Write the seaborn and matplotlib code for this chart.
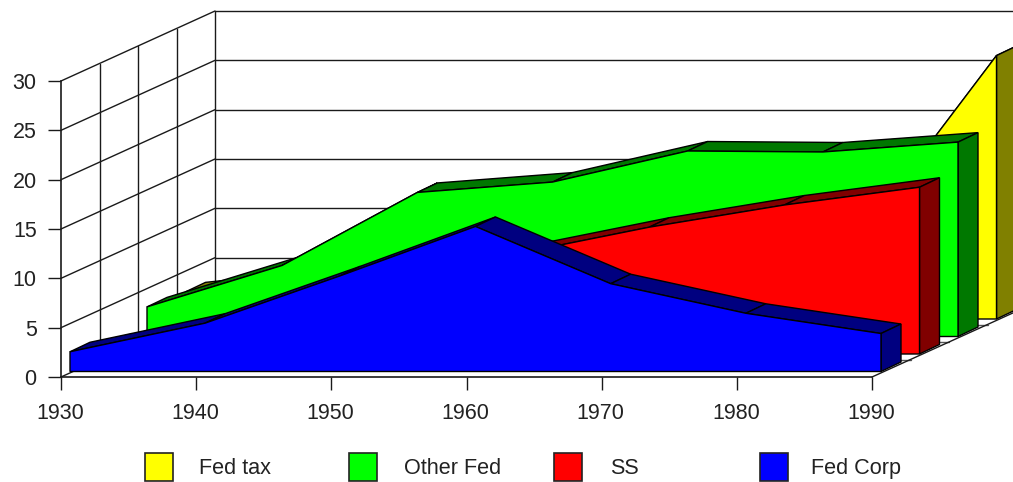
import numpy as np
import matplotlib
matplotlib.use("Agg")
import matplotlib.pyplot as plt
import seaborn as sns
from matplotlib.patches import Rectangle
from matplotlib.transforms import ScaledTranslation

years = [1930, 1940, 1950, 1960, 1970, 1980, 1990]
fed_corp = [2.0, 4.9, 9.7, 14.7, 8.9, 5.9, 3.85]
ss = [1.0, 2.0, 5.0, 10.1, 12.85, 15.1, 16.9]
other_fed = [3.0, 7.2, 14.6, 15.65, 18.8, 18.7, 19.7]
fed_tax = [2.75, 4.2, 6.0, 7.5, 8.2, 8.6, 26.7]
y_ticks = [0, 5, 10, 15, 20, 25, 30]

W, H = 1013, 482
sns.set_theme(style="white")
plt.rcParams['font.family'] = ['Liberation Sans', 'DejaVu Sans']

fig = plt.figure(figsize=(W / 100, H / 100), dpi=100)
ax = fig.add_axes([61 / W, 1 - 377 / H, 811 / W, 296 / H])
ax.patch.set_alpha(0)

px_x = (years[-1] - years[0]) / 811
px_y = 30 / 296
LINE = '#1a1a1a'
LW = 1.0


def shift(x, v, dx, dy):
    # pixel offset (dx right, dy up) in front of the axes plane
    return np.asarray(x, float) + np.asarray(dx) * px_x, np.asarray(v, float) + np.asarray(dy) * px_y


def seg(x, v, color=LINE, lw=LW, z=1):
    sns.lineplot(x=x, y=v, color=color, lw=lw, ax=ax, sort=False, estimator=None,
                 errorbar=None, clip_on=False, zorder=z)


# walls and floor
DX, DY = 38.5, 17.5
for v in y_ticks:
    x0, y0 = shift([1930], [v], 0, 0)
    x1, y1 = shift([1930], [v], 4 * DX, 4 * DY)
    seg([x0[0], x1[0]], [y0[0], y1[0]])
    seg([x1[0], 2001], [y1[0], y1[0]])
for k in range(1, 5):
    x0, y0 = shift([1930, 1930], [0, 30], k * DX, k * DY)
    seg(x0, y0)
    fx, fy = shift([1930, 1990], [0, 0], k * DX, k * DY)
    seg(fx, fy, color='#555555')
fx, fy = shift([1990, 1990], [0, 0], [0, 4 * DX], [0, 4 * DY])
seg(fx, fy)

# areas, back to front
layers = [
    (fed_tax, 3, '#ffff00', '#808000'),
    (other_fed, 2, '#00ff00', '#007800'),
    (ss, 1, '#ff0000', '#800000'),
    (fed_corp, 0, '#0000ff', '#000080'),
]
z = 2
for values, k, face, dark in layers:
    ox, oy = 9 + k * DX, 5.5 + k * DY
    bx, by = 20, 9.5
    fx, fy = shift(years, values, ox, oy)
    tx, ty = shift(years, values, ox + bx, oy + by)
    base_x, base_y = shift([1930, 1990], [0, 0], ox, oy)
    back_x, back_y = shift([1990], [0], ox + bx, oy + by)
    for i in range(len(years) - 1):
        ax.fill([fx[i], fx[i + 1], tx[i + 1], tx[i]], [fy[i], fy[i + 1], ty[i + 1], ty[i]],
                facecolor=dark, edgecolor='black', lw=LW, clip_on=False, zorder=z)
    ax.fill([fx[-1], tx[-1], back_x[0], base_x[1]], [fy[-1], ty[-1], back_y[0], base_y[1]],
            facecolor=dark, edgecolor='black', lw=LW, clip_on=False, zorder=z)
    ax.fill(list(fx) + [base_x[1], base_x[0]], list(fy) + [base_y[1], base_y[0]],
            facecolor=face, edgecolor='black', lw=LW, clip_on=False, zorder=z + 1)
    z += 2

ax.set_xlim(1930, 1990)
ax.set_ylim(0, 30)
ax.set_xticks(years)
ax.set_yticks(y_ticks)
ax.set_xlabel('')
ax.set_ylabel('')
ax.grid(False)
ax.tick_params(axis='x', length=9.5, width=LW, color=LINE, bottom=True, pad=9, labelsize=15.5, labelcolor='#222222')
ax.tick_params(axis='y', length=9.5, width=LW, color=LINE, left=True, pad=8, labelsize=15.5, labelcolor='#222222')
for lab in ax.get_xticklabels():
    lab.set_transform(lab.get_transform() + ScaledTranslation(-1 / 100, 0, fig.dpi_scale_trans))
for side in ['top', 'right']:
    ax.spines[side].set_visible(False)
for side in ['left', 'bottom']:
    ax.spines[side].set_color(LINE)
    ax.spines[side].set_linewidth(LW + 0.2)
    ax.spines[side].set_zorder(20)

# legend
legend_names = ['Fed tax', 'Other Fed', 'SS', 'Fed Corp']
legend_colors = ['#ffff00', '#00ff00', '#ff0000', '#0000ff']
legend_box_x = [145, 349, 554, 760]
legend_text_x = [199, 404, 610, 811]
for name, c, bx, tx in zip(legend_names, legend_colors, legend_box_x, legend_text_x):
    fig.add_artist(Rectangle((bx / W, 1 - 481 / H), 28 / W, 28 / H, transform=fig.transFigure,
                             facecolor=c, edgecolor='#222222', lw=1.2))
    fig.text(tx / W, 1 - 468.5 / H, name, ha='left', va='center', fontsize=15.6, color='#222222')

fig.savefig('out.png', dpi=100)
